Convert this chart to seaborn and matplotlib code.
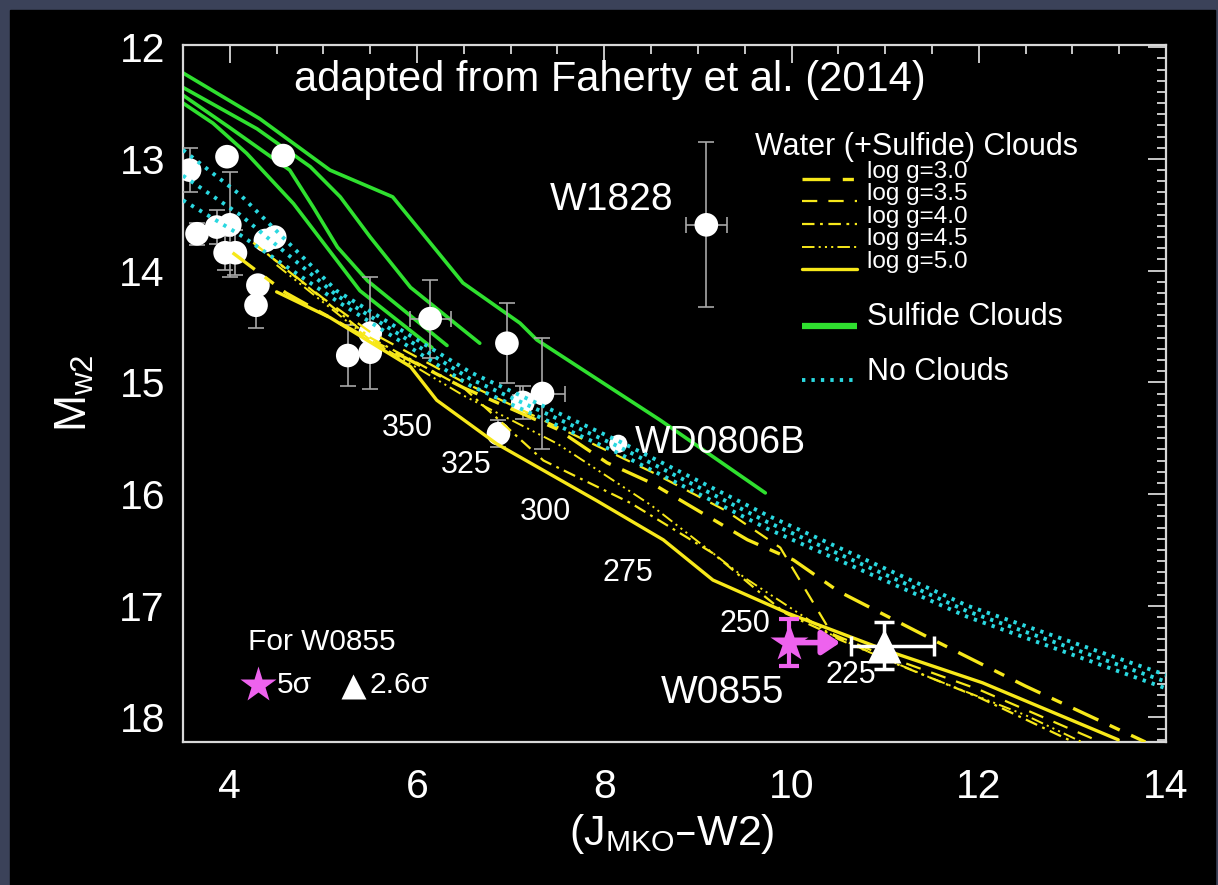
import matplotlib
matplotlib.use("Agg")
import matplotlib.pyplot as plt
from matplotlib.patches import Rectangle
from matplotlib.ticker import MultipleLocator
import seaborn as sns

# sulfide cloud models (green)
sulf_x = [
    [3.50, 4.32, 5.07, 5.74, 6.49, 7.10, 7.28, 8.60, 9.72],
    [3.50, 4.29, 4.86, 5.18, 5.50, 5.93, 6.67],
    [3.50, 4.00, 4.64, 4.89, 5.15, 5.47, 6.32],
    [3.50, 3.82, 4.18, 4.68, 5.39, 6.16],
]
sulf_y = [
    [12.23, 12.64, 13.10, 13.34, 14.11, 14.47, 14.62, 15.34, 15.99],
    [12.36, 12.73, 13.07, 13.34, 13.70, 14.15, 14.65],
    [12.43, 12.72, 13.10, 13.43, 13.79, 14.09, 14.67],
    [12.50, 12.68, 12.95, 13.40, 14.18, 14.69],
]

# cloudless models (cyan dotted)
clear_x = [3.50, 4.11, 5.14, 6.57, 8.14, 9.74, 11.88, 14.00]
clear_y = [
    [12.92, 13.32, 14.18, 14.91, 15.52, 16.19, 17.00, 17.62],
    [13.15, 13.50, 14.22, 14.97, 15.57, 16.25, 17.05, 17.68],
    [13.37, 13.68, 14.27, 15.03, 15.63, 16.31, 17.10, 17.74],
]

# water (+sulfide) cloud models (yellow), one per log g
logg_labels = ["log g=3.0", "log g=3.5", "log g=4.0", "log g=4.5", "log g=5.0"]
water_x = [
    [4.03, 4.60, 5.50, 6.50, 7.50, 8.03, 8.50, 9.53, 10.02, 10.50, 11.50, 12.50, 13.78],
    [4.25, 5.00, 5.50, 6.50, 7.50, 8.50, 9.30, 9.88, 10.43, 11.00, 12.00, 13.30],
    [4.40, 5.50, 6.50, 7.35, 8.28, 9.16, 9.63, 9.94, 11.00, 12.00, 13.01],
    [4.50, 5.50, 6.50, 7.50, 8.50, 9.50, 10.50, 11.50, 12.50, 13.10],
    [4.50, 5.07, 5.93, 6.21, 6.85, 7.92, 8.63, 9.16, 9.97, 11.01, 12.04, 13.49],
]
water_y = [
    [13.84, 14.20, 14.62, 15.05, 15.42, 15.72, 15.90, 16.41, 16.59, 16.87, 17.30, 17.72, 18.22],
    [13.75, 14.25, 14.55, 15.00, 15.40, 15.80, 16.15, 16.48, 17.25, 17.45, 17.75, 18.22],
    [13.85, 14.60, 15.05, 15.70, 16.08, 16.53, 16.86, 17.07, 17.48, 17.82, 18.22],
    [13.95, 14.62, 15.12, 15.55, 16.10, 16.75, 17.30, 17.65, 17.98, 18.22],
    [14.19, 14.42, 14.86, 15.16, 15.55, 16.06, 16.41, 16.77, 17.07, 17.40, 17.69, 18.20],
]

# known Y dwarfs
obj_x = [3.57, 3.97, 4.57, 3.65, 3.86, 4.00, 3.95, 4.06, 4.30, 4.28, 4.38,
         4.48, 5.26, 5.50, 5.50, 6.14, 6.96, 7.13, 7.34, 6.87, 9.09]
obj_y = [13.10, 12.98, 12.97, 13.67, 13.61, 13.59, 13.84, 13.84, 14.13, 14.31, 13.73,
         13.70, 14.76, 14.56, 14.73, 14.43, 14.65, 15.18, 15.10, 15.46, 13.59]
obj_yerr = [0.20, 0.0, 0.0, 0.10, 0.15, 0.47, 0.15, 0.20, 0.0, 0.20, 0.05,
            0.0, 0.27, 0.50, 0.0, 0.35, 0.36, 0.15, 0.50, 0.12, 0.74]
obj_xerr = [0, 0, 0, 0, 0, 0, 0, 0, 0, 0, 0,
            0, 0, 0, 0, 0.22, 0, 0.10, 0.24, 0, 0.22]

wd_x, wd_y = 8.15, 15.55

# W0855
star_x, star_y, star_yerr, star_lim = 9.97, 17.33, 0.21, 10.55
tri_x, tri_y, tri_yerr = 10.99, 17.36, 0.21
tri_xerr = [[0.36], [0.53]]

# model temperatures along the tracks
temps = ["350", "325", "300", "275", "250", "225"]
temp_x = [5.90, 6.53, 7.37, 8.25, 9.50, 10.63]
temp_y = [15.41, 15.74, 16.16, 16.71, 17.16, 17.62]

YELLOW = "#f7e81a"
GREEN = "#2fe02f"
CYAN = "#2ad8e0"
PINK = "#ee62ee"
water_styles = [
    dict(linestyle=(0, (20, 9, 8, 9)), linewidth=2.4),
    dict(linestyle=(0, (11, 8)), linewidth=1.6),
    dict(linestyle=(0, (9, 4, 2, 4)), linewidth=1.6),
    dict(linestyle=(0, (9, 3, 1.5, 3, 1.5, 3, 1.5, 3)), linewidth=1.4),
    dict(linestyle="-", linewidth=2.4),
]
dot_style = dict(linestyle=(0, (2.4, 4.4)), linewidth=2.8)

sns.set_theme(style="dark")
plt.rcParams["font.family"] = ["Liberation Sans", "DejaVu Sans"]
plt.rcParams["mathtext.default"] = "regular"
plt.rcParams["lines.scale_dashes"] = False

fig = plt.figure(figsize=(12.18, 8.85), dpi=100, facecolor="#3b4259")
fig.patches.append(Rectangle((10 / 1218, 0), 1205 / 1218, 1 - 10 / 885,
                             transform=fig.transFigure, color="black", zorder=-1))
ax = fig.add_axes([183 / 1218, 1 - 742 / 885, 983 / 1218, 697 / 885])
ax.set_facecolor("black")

for xs, ys in zip(sulf_x, sulf_y):
    sns.lineplot(x=xs, y=ys, sort=False, estimator=None, color=GREEN,
                 linewidth=2.6, ax=ax, zorder=2)

ax.errorbar(obj_x, obj_y, yerr=obj_yerr, xerr=obj_xerr, fmt="none",
            ecolor="#a8a8a8", elinewidth=1.2, capsize=6, capthick=1.2, zorder=3)
sns.scatterplot(x=obj_x, y=obj_y, s=290, color="white", edgecolor="none",
                ax=ax, zorder=4)
sns.scatterplot(x=[wd_x], y=[wd_y], s=170, color="white", edgecolor="none",
                ax=ax, zorder=4)

for xs, ys, st in zip(water_x, water_y, water_styles):
    sns.lineplot(x=xs, y=ys, sort=False, estimator=None, color=YELLOW,
                 ax=ax, zorder=5, **st)
for ys in clear_y:
    sns.lineplot(x=clear_x, y=ys, sort=False, estimator=None, color=CYAN,
                 ax=ax, zorder=6, **dot_style)

# W0855: 5 sigma star with lower limit arrow, 2.6 sigma triangle
ax.errorbar([star_x], [star_y], yerr=star_yerr, fmt="none", ecolor=PINK,
            elinewidth=3, capsize=7, capthick=3, zorder=7)
ax.annotate("", xy=(star_lim, star_y), xytext=(star_x, star_y),
            arrowprops=dict(arrowstyle="-|>,head_length=0.9,head_width=0.6",
                            color=PINK, lw=4), zorder=7)
ax.plot([star_x], [star_y], marker="*", markersize=29, color=PINK, mec="none", zorder=8)
ax.errorbar([tri_x], [tri_y], yerr=tri_yerr, xerr=tri_xerr, fmt="none",
            ecolor="white", elinewidth=2.5, capsize=7, capthick=2.5, zorder=7)
ax.plot([tri_x], [tri_y], marker="^", markersize=24, color="white", mec="none", zorder=8)

ax.set_xlim(3.5, 14.0)
ax.set_ylim(18.22, 11.98)
ax.xaxis.set_major_locator(MultipleLocator(2))
ax.xaxis.set_minor_locator(MultipleLocator(0.5))
ax.yaxis.set_major_locator(MultipleLocator(1))
ax.yaxis.set_minor_locator(MultipleLocator(0.1))
ax.tick_params(which="both", direction="in", top=True, right=True,
               color="#d8d8d8", width=1.3, labelcolor="white", labelsize=29.5)
ax.tick_params(which="major", length=13)
ax.tick_params(which="minor", length=6.5)
ax.tick_params(axis="x", pad=19)
ax.tick_params(axis="y", pad=13)
for sp in ax.spines.values():
    sp.set_color("#d8d8d8")
    sp.set_linewidth(1.6)
ax.grid(False)
ax.set_xlabel("(J$_{MKO}$–W2)", color="white", fontsize=31)
ax.set_ylabel("M$_{w2}$", color="white", fontsize=32)
ax.xaxis.set_label_coords(0.497, -0.100)
ax.yaxis.set_label_coords(-0.088, 0.50)

# annotations
ax.text(0.434, 0.950, "adapted from Faherty et al. (2014)", transform=ax.transAxes,
        color="white", fontsize=30, ha="center", va="center")
ax.text(8.08, 13.37, "W1828", color="white", fontsize=28, ha="center", va="center")
ax.text(8.33, 15.54, "WD0806B", color="white", fontsize=27, ha="left", va="center")
ax.text(9.26, 17.78, "W0855", color="white", fontsize=28, ha="center", va="center")
for t, tx, ty in zip(temps, temp_x, temp_y):
    ax.text(tx, ty, t, color="white", fontsize=22, ha="center", va="center")

# model legend
ax.text(0.582, 0.854, "Water (+Sulfide) Clouds", transform=ax.transAxes,
        color="white", fontsize=22, ha="left", va="center")
leg_line_y = [0.808, 0.776, 0.743, 0.710, 0.679]
leg_text_y = [0.818, 0.786, 0.753, 0.722, 0.689]
for lab, ly, ty, st in zip(logg_labels, leg_line_y, leg_text_y, water_styles):
    ax.plot([0.630, 0.686], [ly, ly], transform=ax.transAxes, color=YELLOW, **st)
    ax.text(0.696, ty, lab, transform=ax.transAxes, color="white", fontsize=17.5,
            ha="left", va="center")
ax.plot([0.630, 0.686], [0.597, 0.597], transform=ax.transAxes, color=GREEN,
        linewidth=4.5, solid_capstyle="butt")
ax.text(0.696, 0.610, "Sulfide Clouds", transform=ax.transAxes, color="white",
        fontsize=22, ha="left", va="center")
ax.plot([0.630, 0.686], [0.519, 0.519], transform=ax.transAxes, color=CYAN, **dot_style)
ax.text(0.696, 0.531, "No Clouds", transform=ax.transAxes, color="white",
        fontsize=22, ha="left", va="center")

# W0855 key
ax.text(0.066, 0.143, "For W0855", transform=ax.transAxes, color="white",
        fontsize=21.5, ha="left", va="center")
ax.plot([0.076], [0.082], transform=ax.transAxes, marker="*", markersize=27,
        color=PINK, mec="none")
ax.text(0.095, 0.082, "5σ", transform=ax.transAxes, color="white", fontsize=21.5,
        ha="left", va="center")
ax.plot([0.173], [0.080], transform=ax.transAxes, marker="^", markersize=18,
        color="white", mec="none")
ax.text(0.190, 0.082, "2.6σ", transform=ax.transAxes, color="white", fontsize=21.5,
        ha="left", va="center")

fig.savefig("out.png", dpi=100, facecolor=fig.get_facecolor())
